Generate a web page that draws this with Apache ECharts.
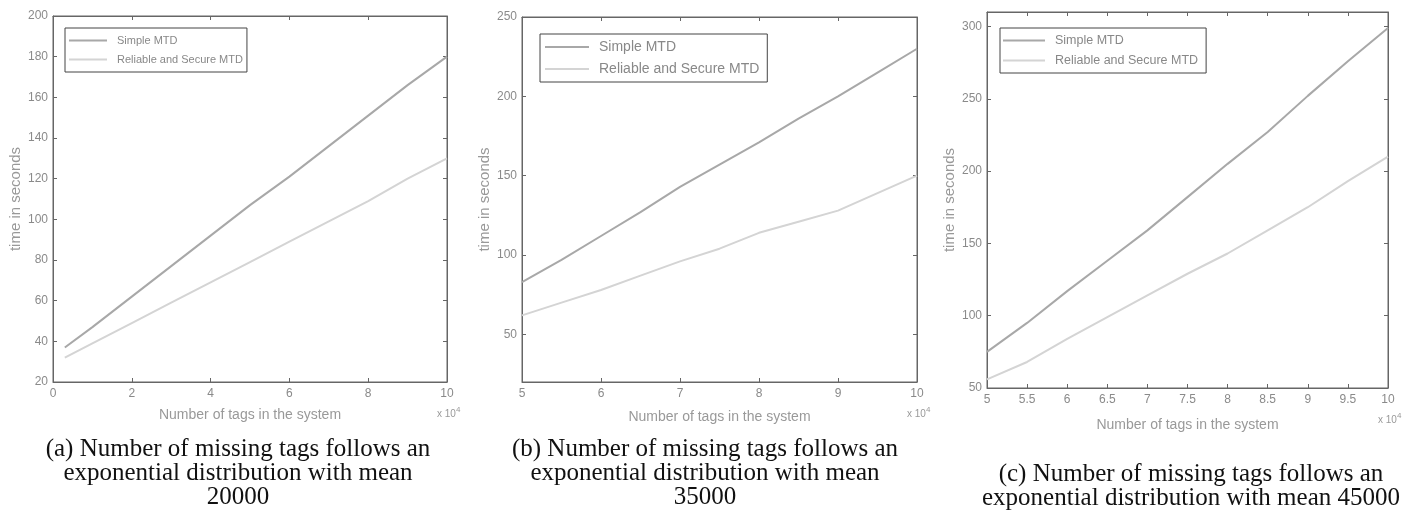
<!DOCTYPE html>
<html><head><meta charset="utf-8">
<script src="https://cdn.jsdelivr.net/npm/echarts@6/dist/echarts.min.js"></script>
<style>html,body{margin:0;padding:0;background:#fff}#c{width:1405px;height:519px}</style>
</head><body><div id="c"></div>
<script>
// ---- data ----
const seriesNames = ['Simple MTD', 'Reliable and Secure MTD'];
const xA = [0.3, 1, 2, 3, 4, 5, 6, 7, 8, 9, 10];
const simpleA = [37, 47, 62, 77, 92, 107, 121, 136, 151, 166, 180];
const reliableA = [32, 39, 49, 59, 69, 79, 89, 99, 109, 120, 130];
const xB = [5, 5.5, 6, 6.5, 7, 7.5, 8, 8.5, 9, 9.5, 10];
const simpleB = [83, 97, 112, 127, 143, 157, 171, 186, 200, 215, 230];
const reliableB = [62, 70, 78, 87, 96, 104, 114, 121, 128, 139, 150];
const xC = [5, 5.5, 6, 6.5, 7, 7.5, 8, 8.5, 9, 9.5, 10];
const simpleC = [75, 95, 117, 138, 159, 182, 205, 227, 252, 276, 299];
const reliableC = [56, 68, 84, 99, 114, 129, 143, 159, 175, 193, 210];
const xTicksA = [0, 2, 4, 6, 8, 10];
const yTicksA = [20, 40, 60, 80, 100, 120, 140, 160, 180, 200];
const xTicksB = [5, 6, 7, 8, 9, 10];
const yTicksB = [50, 100, 150, 200, 250];
const xTicksC = [5, 5.5, 6, 6.5, 7, 7.5, 8, 8.5, 9, 9.5, 10];
const yTicksC = [50, 100, 150, 200, 250, 300];
const captions = [
  '(a) Number of missing tags follows an\nexponential distribution with mean\n20000',
  '(b) Number of missing tags follows an\nexponential distribution with mean\n35000',
  '(c) Number of missing tags follows an\nexponential distribution with mean 45000'
];
const yName = 'time in seconds';
const xName = 'Number of tags in the system';

// ---- layout ----
const grids = [
  {left: 53, top: 16, width: 394, height: 366, xr: [0, 10], yr: [20, 200], xt: xTicksA, yt: yTicksA, nameGap: 26},
  {left: 522, top: 17, width: 395, height: 365, xr: [5, 10], yr: [20, 250], xt: xTicksB, yt: yTicksB, nameGap: 28},
  {left: 987, top: 12, width: 401, height: 376, xr: [5, 10], yr: [50, 310], xt: xTicksC, yt: yTicksC, nameGap: 30}
];
const sets = [[xA, simpleA, reliableA], [xB, simpleB, reliableB], [xC, simpleC, reliableC]];
const colors = ['#a8a8a8', '#d4d4d4'];
const axisCol = '#666';
const labCol = '#8a8a8a';

const option = {
  animation: false,
  backgroundColor: '#fff',
  grid: [], xAxis: [], yAxis: [], series: [], legend: [], title: [], graphic: []
};
const legendCfg = [
  {left: 65, top: 28, fontSize: 11, itemWidth: 38, itemGap: 8, padding: [7, 4, 7, 4]},
  {left: 540, top: 34, fontSize: 14, itemWidth: 44, itemGap: 8, padding: [6, 8, 6, 5]},
  {left: 1000, top: 28, fontSize: 12.5, itemWidth: 42, itemGap: 7, padding: [6, 8, 6, 3]}
];
const captionX = [233, 700, 1186];
const captionTop = [432, 432, 457];

grids.forEach((g, i) => {
  option.grid.push({left: g.left, top: g.top, width: g.width, height: g.height,
    show: true, borderColor: axisCol, borderWidth: 1, backgroundColor: '#fff'});
  const common = {gridIndex: i, type: 'value', splitLine: {show: false},
    axisLine: {show: true, onZero: false, lineStyle: {color: axisCol, width: 1}},
    axisTick: {show: true, inside: true, length: 4, lineStyle: {color: axisCol}}};
  option.xAxis.push(Object.assign({}, common, {position: 'bottom', min: g.xr[0], max: g.xr[1],
    name: xName, nameLocation: 'middle', nameGap: g.nameGap,
    nameTextStyle: {color: '#999', fontSize: 14, fontFamily: 'Liberation Sans'},
    axisTick: Object.assign({}, common.axisTick, {customValues: g.xt}),
    axisLabel: {customValues: g.xt, color: labCol, fontSize: 12, fontFamily: 'Liberation Sans', margin: 6}}));
  option.xAxis.push(Object.assign({}, common, {position: 'top', min: g.xr[0], max: g.xr[1],
    axisTick: Object.assign({}, common.axisTick, {customValues: g.xt}), axisLabel: {show: false}}));
  option.yAxis.push(Object.assign({}, common, {position: 'left', min: g.yr[0], max: g.yr[1],
    name: yName, nameLocation: 'middle', nameGap: 30, nameRotate: 90,
    nameTextStyle: {color: '#999', fontSize: 15, fontFamily: 'Liberation Sans'},
    axisTick: Object.assign({}, common.axisTick, {customValues: g.yt}),
    axisLabel: {customValues: g.yt, color: labCol, fontSize: 12, fontFamily: 'Liberation Sans', margin: 5}}));
  option.yAxis.push(Object.assign({}, common, {position: 'right', min: g.yr[0], max: g.yr[1],
    axisTick: Object.assign({}, common.axisTick, {customValues: g.yt}), axisLabel: {show: false}}));
  const s = sets[i];
  [1, 2].forEach((k) => {
    option.series.push({
      type: 'line', name: seriesNames[k - 1], xAxisIndex: i * 2, yAxisIndex: i * 2,
      data: s[0].map((x, j) => [x, s[k][j]]), showSymbol: false, symbol: 'none',
      lineStyle: {color: colors[k - 1], width: 2}, itemStyle: {color: colors[k - 1]}
    });
  });
  const lc = legendCfg[i];
  option.legend.push({
    left: lc.left, top: lc.top, orient: 'vertical',
    data: seriesNames, icon: 'rect', itemWidth: lc.itemWidth, itemHeight: 2, itemGap: lc.itemGap,
    backgroundColor: '#fff', borderColor: '#444', borderWidth: 1, padding: lc.padding,
    textStyle: {color: '#888', fontSize: lc.fontSize, fontFamily: 'Liberation Sans', padding: [0, 0, 0, 5]},
    selectedMode: false
  });
  option.title.push({
    text: captions[i], left: captionX[i], top: captionTop[i], textAlign: 'center',
    textStyle: {fontFamily: 'Liberation Serif', fontSize: 25, fontWeight: 'normal', color: '#111', lineHeight: 24}
  });
  option.graphic.push({
    type: 'text', left: g.left + g.width - 10, top: g.top + g.height + 24,
    style: {text: '{a|x 10}{b|4}', rich: {a: {fontSize: 10, fill: '#999', fontFamily: 'Liberation Sans'},
      b: {fontSize: 8, fill: '#999', verticalAlign: 'top', padding: [0, 0, 8, 0]}}}
  });
});

const chart = echarts.init(document.getElementById('c'), null, {renderer: 'canvas'});
chart.setOption(option);
</script></body></html>
